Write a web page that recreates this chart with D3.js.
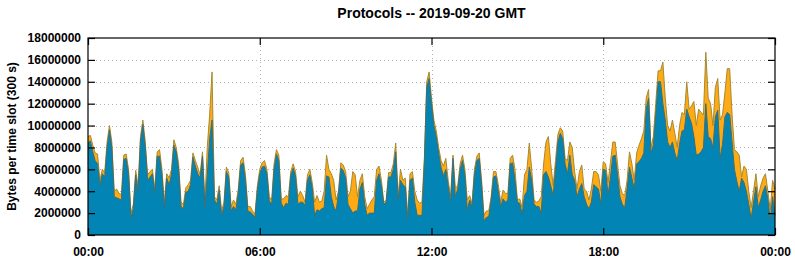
<!DOCTYPE html>
<html>
<head>
<meta charset="utf-8">
<script src="https://cdn.jsdelivr.net/npm/d3@7"></script>
<style>
  html, body { margin: 0; padding: 0; background: #fff; }
  svg { display: block; }
  text { font-family: "Liberation Sans", Arial, sans-serif; font-weight: bold; fill: #000; }
</style>
</head>
<body>
<svg id="chart" width="795" height="260"></svg>
<script>
// ---- Data (values in millions of bytes per 300 s slot, from 00:00 GMT) ----
const chartTitle = "Protocols -- 2019-09-20 GMT";
const yAxisLabel = "Bytes per time slot (300 s)";
const startTime = "2019-09-20T00:00:00Z";
const endTime = "2019-09-21T00:00:00Z";
const slotSeconds = 300;
const yTickValues = [0, 2000000, 4000000, 6000000, 8000000, 10000000, 12000000, 14000000, 16000000, 18000000];

// total (top of orange layer)
const totalMB = [
  9.0, 9.1, 8.2, 7.5, 7.4, 5.0, 6.0, 5.7, 8.5, 10.0, 8.5, 4.0, 4.2, 3.8, 3.7, 7.3, 7.4, 6.0, 2.0, 2.8,
  5.9, 4.5, 9.0, 10.5, 8.5, 5.5, 5.8, 6.0, 4.2, 7.6, 7.8, 6.0, 3.0, 5.6, 5.2, 6.0, 8.7, 8.0, 6.5, 3.0,
  2.8, 4.3, 4.6, 5.0, 7.5, 6.8, 6.2, 5.5, 7.6, 3.0, 8.0, 11.0, 14.9, 3.5, 3.2, 4.5, 2.2, 3.0, 6.2, 5.7,
  2.6, 3.2, 2.8, 4.2, 6.8, 7.1, 5.5, 2.6, 2.6, 2.2, 1.9, 4.5, 6.0, 6.6, 6.8, 6.0, 3.5, 3.2, 6.5, 7.8,
  7.3, 3.3, 3.3, 3.6, 3.5, 5.8, 6.5, 5.8, 3.5, 4.0, 3.6, 3.0, 5.5, 6.0, 4.8, 3.0, 3.6, 3.0, 3.1, 4.0,
  7.3, 6.0, 5.6, 5.0, 3.2, 4.0, 6.6, 6.4, 5.8, 3.5, 4.0, 5.8, 5.5, 3.5, 5.0, 5.6, 3.5, 2.4, 2.8, 3.2,
  3.5, 6.0, 6.3, 5.0, 3.0, 3.2, 5.7, 5.7, 6.5, 8.4, 3.5, 6.0, 5.0, 5.2, 1.8, 5.6, 5.8, 4.0, 3.2, 2.9,
  3.0, 7.0, 14.0, 14.9, 12.5, 10.5, 9.5, 8.0, 6.8, 6.3, 7.0, 5.0, 3.5, 7.3, 4.3, 4.5, 6.5, 7.3, 6.0, 3.2,
  3.6, 2.9, 6.0, 7.2, 7.5, 5.0, 1.8, 2.2, 2.2, 3.5, 5.8, 5.8, 4.6, 3.0, 4.1, 3.8, 3.8, 7.0, 7.3, 6.0,
  3.2, 3.3, 2.5, 5.5, 6.0, 8.4, 6.0, 3.2, 3.0, 3.1, 3.5, 6.5, 8.5, 9.0, 6.5, 4.5, 6.8, 9.2, 9.8, 9.5,
  7.0, 6.8, 8.5, 8.0, 5.8, 4.2, 5.8, 6.4, 4.2, 4.0, 3.2, 4.2, 5.8, 5.8, 5.5, 4.0, 6.7, 6.5, 4.8, 6.6,
  8.5, 8.5, 6.5, 4.5, 3.8, 3.6, 5.0, 7.6, 6.5, 5.0, 7.5, 8.2, 8.8, 9.5, 12.5, 13.3, 8.0, 9.0, 12.0, 15.0,
  15.0, 15.8, 12.5, 10.0, 9.5, 10.5, 9.3, 8.0, 10.0, 11.2, 11.0, 14.0, 11.5, 11.8, 12.2, 10.0, 11.5, 11.2, 11.0, 16.7,
  12.5, 12.0, 10.0, 13.5, 14.3, 10.5, 11.0, 13.0, 15.2, 15.2, 11.0, 7.8, 7.6, 7.3, 5.3, 6.3, 6.0, 4.0, 2.5, 4.0,
  5.6, 3.5, 4.5, 5.2, 5.6, 4.0, 2.3, 5.0, 4.2
];

// main protocol (blue, bottom layer)
const blueMB = [
  8.4, 8.6, 7.6, 6.8, 6.5, 4.5, 5.6, 5.3, 8.0, 9.6, 8.0, 3.5, 3.4, 3.3, 3.2, 6.9, 7.0, 5.6, 1.6, 2.4,
  5.5, 4.0, 8.6, 10.1, 8.1, 5.0, 5.3, 5.6, 3.8, 7.2, 7.2, 5.5, 2.5, 5.2, 4.6, 5.5, 8.2, 7.6, 6.0, 2.6,
  2.4, 3.9, 4.0, 4.6, 7.1, 6.3, 5.6, 5.2, 7.2, 2.6, 5.5, 8.8, 10.5, 3.2, 2.8, 4.1, 1.8, 2.6, 5.8, 5.3,
  2.2, 2.6, 2.3, 3.8, 6.4, 6.6, 5.0, 2.2, 2.1, 1.9, 1.6, 4.1, 5.6, 6.2, 6.3, 5.6, 3.1, 2.8, 6.0, 7.4,
  6.8, 2.9, 2.5, 2.9, 2.8, 5.4, 6.1, 5.4, 2.8, 3.0, 3.0, 2.7, 5.0, 5.5, 4.3, 1.8, 2.3, 2.2, 2.4, 2.5,
  5.4, 5.3, 3.5, 2.6, 2.2, 3.8, 6.1, 5.9, 5.2, 2.8, 2.4, 2.0, 2.2, 2.2, 4.2, 4.8, 2.8, 1.8, 2.0, 2.0,
  2.0, 5.0, 5.6, 4.5, 2.8, 3.0, 5.3, 5.3, 6.0, 7.6, 3.2, 5.0, 4.6, 4.4, 1.4, 5.0, 5.2, 3.0, 1.8, 1.8,
  1.8, 6.6, 13.5, 14.3, 12.0, 10.0, 9.0, 7.5, 6.2, 5.4, 6.0, 4.5, 3.0, 7.0, 3.5, 4.2, 6.0, 6.8, 5.5, 2.3,
  3.2, 2.6, 5.5, 6.8, 7.0, 4.6, 1.3, 1.6, 1.7, 3.1, 5.3, 5.4, 4.0, 2.6, 3.3, 3.0, 3.2, 6.5, 6.6, 5.0,
  3.0, 2.9, 1.9, 3.6, 4.0, 6.2, 5.0, 2.8, 2.6, 2.6, 2.0, 5.5, 5.8, 5.3, 4.5, 3.6, 6.0, 8.5, 9.3, 8.8,
  6.5, 5.6, 7.3, 5.5, 5.0, 3.5, 4.2, 4.7, 3.5, 2.8, 2.4, 3.0, 4.6, 4.4, 4.2, 2.8, 6.0, 5.9, 3.7, 5.2,
  7.2, 7.3, 5.5, 3.5, 2.8, 2.5, 4.2, 6.2, 5.2, 4.2, 6.5, 6.7, 7.0, 7.5, 11.5, 12.5, 7.5, 8.2, 11.0, 14.0,
  14.0, 12.0, 10.5, 8.5, 8.0, 8.5, 7.5, 6.8, 8.3, 9.5, 9.6, 11.5, 10.8, 10.2, 9.0, 7.3, 7.4, 7.6, 8.0, 12.0,
  9.0, 8.8, 8.0, 10.8, 11.4, 7.0, 8.3, 10.8, 11.2, 11.0, 8.5, 6.0, 4.9, 4.0, 5.2, 4.8, 4.0, 2.8, 1.5, 3.0,
  4.4, 2.5, 3.2, 4.0, 4.5, 3.3, 1.4, 3.5, 1.8
];

// ---- Chart ----
const MB = 1e6;
const box = { left: 88, right: 775, top: 38, bottom: 235 };
const svg = d3.select("#chart");

const t0 = new Date(startTime);
const rows = totalMB.map((v, i) => ({
  t: new Date(t0.getTime() + i * slotSeconds * 1000),
  total: v * MB,
  blue: blueMB[i] * MB
}));

const x = d3.scaleUtc().domain([new Date(startTime), new Date(endTime)]).range([box.left, box.right]);
const y = d3.scaleLinear().domain([0, 18000000]).range([box.bottom, box.top]);
const xTicks = x.ticks(d3.utcHour.every(6));

// grid (behind the areas)
const grid = svg.append("g").attr("stroke", "#b4b4b4").attr("stroke-width", 1).attr("stroke-dasharray", "1,3");
grid.selectAll("line.h").data(yTickValues.slice(1, -1)).join("line")
  .attr("x1", box.left).attr("x2", box.right)
  .attr("y1", d => Math.round(y(d)) + 0.5).attr("y2", d => Math.round(y(d)) + 0.5);
grid.selectAll("line.v").data(xTicks.slice(1, -1)).join("line")
  .attr("y1", box.top).attr("y2", box.bottom)
  .attr("x1", d => Math.round(x(d)) + 0.5).attr("x2", d => Math.round(x(d)) + 0.5);

// areas
const orangeArea = d3.area().x(d => x(d.t)).y0(y(0)).y1(d => y(d.total));
const blueArea = d3.area().x(d => x(d.t)).y0(y(0)).y1(d => y(d.blue));
svg.append("path").datum(rows).attr("d", orangeArea).attr("fill", "#fdaa14");
svg.append("path").datum(rows).attr("d", d3.line().x(d => x(d.t)).y(d => y(d.total)))
  .attr("fill", "none").attr("stroke", "#a88a30").attr("stroke-width", 1);
svg.append("path").datum(rows).attr("d", blueArea).attr("fill", "#0284b4");
svg.append("path").datum(rows).attr("d", d3.line().x(d => x(d.t)).y(d => y(d.blue)))
  .attr("fill", "none").attr("stroke", "#3f6f72").attr("stroke-width", 1);

// axes (inward ticks, mirrored)
const fmtY = d3.format("d");
const gLeft = svg.append("g").attr("transform", `translate(${box.left},0)`)
  .call(d3.axisLeft(y).tickValues(yTickValues).tickFormat(fmtY).tickSizeInner(-7).tickSizeOuter(0).tickPadding(7));
const gRight = svg.append("g").attr("transform", `translate(${box.right},0)`)
  .call(d3.axisRight(y).tickValues(yTickValues).tickFormat("").tickSizeInner(-7).tickSizeOuter(0));
const gBottom = svg.append("g").attr("transform", `translate(0,${box.bottom})`)
  .call(d3.axisBottom(x).tickValues(xTicks).tickFormat(d3.utcFormat("%H:%M")).tickSizeInner(-7).tickSizeOuter(0).tickPadding(12));
const gTop = svg.append("g").attr("transform", `translate(0,${box.top})`)
  .call(d3.axisTop(x).tickValues(xTicks).tickFormat("").tickSizeInner(-7).tickSizeOuter(0));
[gLeft, gRight, gBottom, gTop].forEach(g => {
  g.select(".domain").remove();
  g.selectAll("line").attr("stroke", "#000").attr("stroke-width", 1.2);
  g.selectAll("text").attr("font-size", 12).attr("font-family", "Liberation Sans, Arial, sans-serif").attr("font-weight", "bold").attr("fill", "#000");
});

// frame
svg.append("rect").attr("x", box.left).attr("y", box.top)
  .attr("width", box.right - box.left).attr("height", box.bottom - box.top)
  .attr("fill", "none").attr("stroke", "#000").attr("stroke-width", 1.2);

// title & label
svg.append("text").attr("x", (box.left + box.right) / 2).attr("y", 18)
  .attr("text-anchor", "middle").attr("font-size", 14).text(chartTitle);
svg.append("text").attr("transform", `translate(16,${(box.top + box.bottom) / 2}) rotate(-90)`)
  .attr("text-anchor", "middle").attr("font-size", 12).text(yAxisLabel);
</script>
</body>
</html>
